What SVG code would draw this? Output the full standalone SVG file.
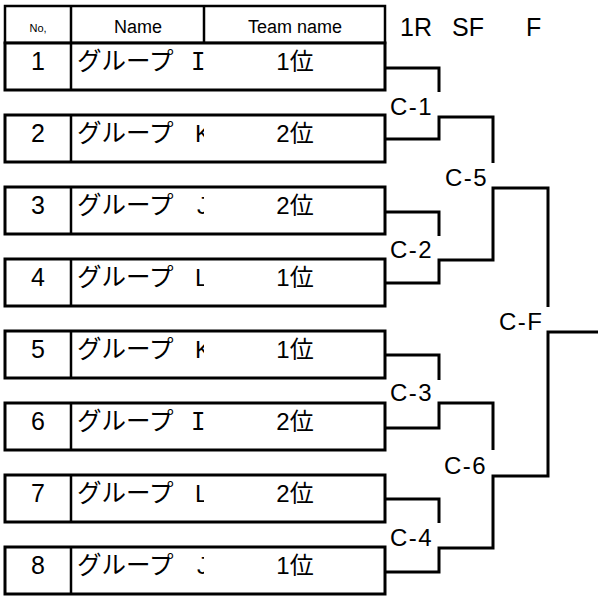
<svg xmlns="http://www.w3.org/2000/svg" width="598" height="598" viewBox="0 0 598 598">
<style>
.box{fill:#fff;stroke:#000;stroke-width:3}
.div{stroke:#000;stroke-width:2.5}
.hd{font-family:'Liberation Sans','Noto Sans CJK JP',sans-serif;fill:#000}
.num{font-family:'Liberation Sans',sans-serif;font-size:25px;text-anchor:middle}
.nm{font-family:'Noto Sans CJK JP','Liberation Sans',sans-serif;font-size:24.5px}
.lt{font-family:'Liberation Sans',sans-serif;font-size:24px}
.lti{font-family:'DejaVu Sans Mono',monospace;font-size:24px}
.tm{font-family:'Liberation Sans','Noto Sans CJK JP',sans-serif;font-size:24px;text-anchor:middle}
.lbl{font-family:'Liberation Sans',sans-serif;font-size:24px;letter-spacing:1.5px}
.con{fill:none;stroke:#000;stroke-width:3}
</style>
<defs>
<clipPath id="nameClip"><rect x="71" y="0" width="133" height="598"/></clipPath>
</defs>
<rect width="598" height="598" fill="#fff"/>

<g id="header">
<rect class="box" x="5" y="6" width="380" height="37" style="stroke-width:2.5"/>
<line class="div" x1="71" y1="6" x2="71" y2="43"/>
<line class="div" x1="204" y1="6" x2="204" y2="43"/>
<text class="hd" x="38" y="32" font-size="11" text-anchor="middle">No,</text>
<text class="hd" x="138" y="33" font-size="18" text-anchor="middle">Name</text>
<text class="hd" x="295" y="33" font-size="18" text-anchor="middle">Team name</text>
<text class="hd" y="36" font-size="25"><tspan x="400">1R</tspan><tspan x="452">SF</tspan><tspan x="526">F</tspan></text>
</g>

<g id="team-1">
<rect class="box" x="5" y="43" width="380" height="47"/>
<line class="div" x1="71" y1="43" x2="71" y2="90"/>
<text class="num" x="38" y="70">1</text>
<text class="nm" x="77" y="70" clip-path="url(#nameClip)">グループ <tspan class="lti" x="191">I</tspan></text>
<text class="tm" x="295" y="70">1位</text>
</g>
<g id="team-2">
<rect class="box" x="5" y="115" width="380" height="47"/>
<line class="div" x1="71" y1="115" x2="71" y2="162"/>
<text class="num" x="38" y="142">2</text>
<text class="nm" x="77" y="142" clip-path="url(#nameClip)">グループ <tspan class="lt" x="195">K</tspan></text>
<text class="tm" x="295" y="142">2位</text>
</g>
<g id="team-3">
<rect class="box" x="5" y="187" width="380" height="47"/>
<line class="div" x1="71" y1="187" x2="71" y2="234"/>
<text class="num" x="38" y="214">3</text>
<text class="nm" x="77" y="214" clip-path="url(#nameClip)">グループ <tspan class="lt" x="197">J</tspan></text>
<text class="tm" x="295" y="214">2位</text>
</g>
<g id="team-4">
<rect class="box" x="5" y="259" width="380" height="47"/>
<line class="div" x1="71" y1="259" x2="71" y2="306"/>
<text class="num" x="38" y="286">4</text>
<text class="nm" x="77" y="286" clip-path="url(#nameClip)">グループ <tspan class="lt" x="195">L</tspan></text>
<text class="tm" x="295" y="286">1位</text>
</g>
<g id="team-5">
<rect class="box" x="5" y="331" width="380" height="47"/>
<line class="div" x1="71" y1="331" x2="71" y2="378"/>
<text class="num" x="38" y="358">5</text>
<text class="nm" x="77" y="358" clip-path="url(#nameClip)">グループ <tspan class="lt" x="195">K</tspan></text>
<text class="tm" x="295" y="358">1位</text>
</g>
<g id="team-6">
<rect class="box" x="5" y="403" width="380" height="47"/>
<line class="div" x1="71" y1="403" x2="71" y2="450"/>
<text class="num" x="38" y="430">6</text>
<text class="nm" x="77" y="430" clip-path="url(#nameClip)">グループ <tspan class="lti" x="191">I</tspan></text>
<text class="tm" x="295" y="430">2位</text>
</g>
<g id="team-7">
<rect class="box" x="5" y="475" width="380" height="47"/>
<line class="div" x1="71" y1="475" x2="71" y2="522"/>
<text class="num" x="38" y="502">7</text>
<text class="nm" x="77" y="502" clip-path="url(#nameClip)">グループ <tspan class="lt" x="195">L</tspan></text>
<text class="tm" x="295" y="502">2位</text>
</g>
<g id="team-8">
<rect class="box" x="5" y="547" width="380" height="47"/>
<line class="div" x1="71" y1="547" x2="71" y2="594"/>
<text class="num" x="38" y="574">8</text>
<text class="nm" x="77" y="574" clip-path="url(#nameClip)">グループ <tspan class="lt" x="197">J</tspan></text>
<text class="tm" x="295" y="574">1位</text>
</g>

<g id="connectors">
<path class="con" d="M385,68 H439 V92"/>
<path class="con" d="M385,139 H439 V117 H493 V163"/>
<path class="con" d="M385,212 H439 V236"/>
<path class="con" d="M385,283 H439 V260 H493 V188 H548 V307"/>
<path class="con" d="M385,355 H439 V380"/>
<path class="con" d="M385,428 H439 V403 H493 V450"/>
<path class="con" d="M385,499 H439 V523"/>
<path class="con" d="M385,572 H439 V548 H493 V476 H548 V332 H598"/>
</g>

<g id="match-c1"><text class="lbl" x="390" y="115">C-1</text></g>
<g id="match-c2"><text class="lbl" x="390" y="258">C-2</text></g>
<g id="match-c3"><text class="lbl" x="390" y="401">C-3</text></g>
<g id="match-c4"><text class="lbl" x="390" y="546">C-4</text></g>
<g id="match-c5"><text class="lbl" x="445" y="186">C-5</text></g>
<g id="match-c6"><text class="lbl" x="444" y="474">C-6</text></g>
<g id="match-cf"><text class="lbl" x="499" y="330">C-F</text></g>
</svg>
